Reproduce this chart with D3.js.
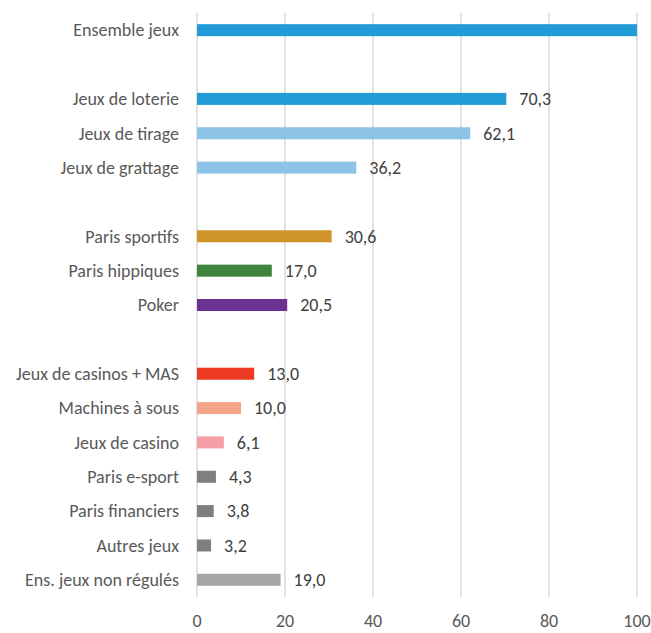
<!DOCTYPE html>
<html>
<head>
<meta charset="utf-8">
<script src="https://cdn.jsdelivr.net/npm/d3@7"></script>
<style>
  body { margin: 0; background: white; }
  text { font-family: Carlito, Lato, "Open Sans", sans-serif; }
</style>
</head>
<body>
<div class="chart"></div>
<script>
// empty strings are the gaps between groups
var categories = ["Ensemble jeux", "",
    "Jeux de loterie", "Jeux de tirage", "Jeux de grattage", "",
    "Paris sportifs", "Paris hippiques", "Poker", "",
    "Jeux de casinos + MAS", "Machines à sous", "Jeux de casino",
    "Paris e-sport", "Paris financiers", "Autres jeux", "Ens. jeux non régulés"];

var values = [100, null,
    70.3, 62.1, 36.2, null,
    30.6, 17.0, 20.5, null,
    13.0, 10.0, 6.1,
    4.3, 3.8, 3.2, 19.0];

var showLabel = [false, false,
    true, true, true, false,
    true, true, true, false,
    true, true, true,
    true, true, true, true];

var barColors = ["#229BD6", null,
    "#229BD6", "#8DC3E6", "#8DC3E6", null,
    "#D0952A", "#3F8540", "#6B3291", null,
    "#EE3A23", "#F4A589", "#F49FA5",
    "#7F7F7F", "#7F7F7F", "#7F7F7F", "#A6A6A6"];

var xTicks = [0, 20, 40, 60, 80, 100];

var width = 651, height = 633;

var svg = d3.select(".chart")
    .append("svg")
    .attr("width", width)
    .attr("height", height)

var x = d3.scaleLinear()
    .domain([0, 100])
    .range([197, 637]);

var y = d3.scaleBand()
    .domain(d3.range(categories.length))
    .range([13, 597])
    .paddingInner(0.65)
    .paddingOuter(0.325);

// gridlines
svg.selectAll(".grid")
    .data(xTicks)
    .enter().append("line")
    .attr("class", "grid")
    .attr("x1", function(d) { return x(d); })
    .attr("x2", function(d) { return x(d); })
    .attr("y1", 13)
    .attr("y2", 597)
    .attr("stroke", "#D9D9D9")
    .style("stroke-width", 1.5);

// tick labels
svg.selectAll(".tick-label")
    .data(xTicks)
    .enter().append("text")
    .attr("class", "tick-label")
    .attr("x", function(d) { return x(d); })
    .attr("y", 627)
    .attr("text-anchor", "middle")
    .attr("fill", "#595959")
    .style("font-size", "18px")
    .text(function(d) { return d; });

var rows = d3.range(categories.length).filter(function(i) {
    return values[i] !== null;
});

svg.selectAll(".bar")
    .data(rows)
    .enter().append("rect")
    .attr("class", "bar")
    .attr("x", x(0))
    .attr("y", function(i) { return y(i); })
    .attr("width", function(i) { return x(values[i]) - x(0); })
    .attr("height", y.bandwidth())
    .attr("fill", function(i) { return barColors[i]; });

svg.selectAll(".cat-label")
    .data(rows)
    .enter().append("text")
    .attr("class", "cat-label")
    .attr("x", 179)
    .attr("y", function(i) { return y(i) + y.bandwidth() / 2; })
    .attr("dy", "0.35em")
    .attr("text-anchor", "end")
    .attr("fill", "#595959")
    .style("font-size", "18px")
    .text(function(i) { return categories[i]; });

svg.selectAll(".val-label")
    .data(rows.filter(function(i) { return showLabel[i]; }))
    .enter().append("text")
    .attr("class", "val-label")
    .attr("x", function(i) { return x(values[i]) + 13; })
    .attr("y", function(i) { return y(i) + y.bandwidth() / 2; })
    .attr("dy", "0.35em")
    .attr("fill", "#404040")
    .style("font-size", "18px")
    .text(function(i) { return values[i].toFixed(1).replace(".", ","); });
</script>
</body>
</html>
